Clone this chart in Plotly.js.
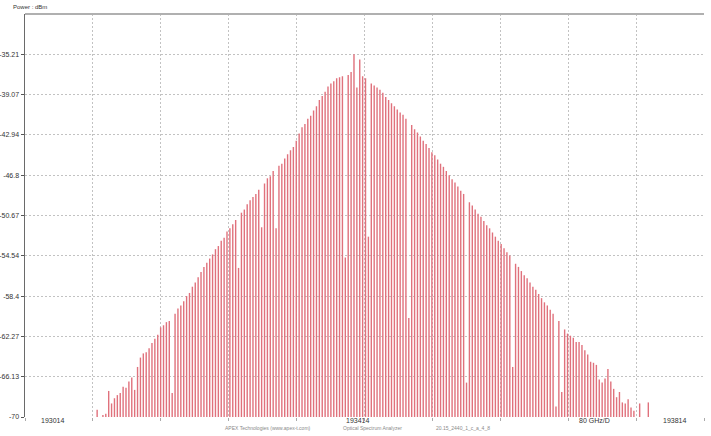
<!DOCTYPE html>
<html><head><meta charset="utf-8">
<script src="https://cdn.plot.ly/plotly-3.0.1.min.js"></script>
<style>html,body{margin:0;padding:0;background:#fff;} #chart{width:711px;height:436px;}</style>
</head><body><div id="chart"></div>
<script>
const freqGHz = [
193099.0,193102.4,193105.8,193109.2,193112.6,193116.0,193119.4,193122.8,193126.2,193129.6,
193133.0,193136.4,193139.8,193143.2,193146.6,193150.0,193153.4,193156.8,193160.2,193163.6,
193167.0,193170.4,193173.8,193177.2,193180.6,193184.0,193187.4,193190.8,193194.2,193197.6,
193201.0,193204.4,193207.8,193211.2,193214.6,193218.0,193221.4,193224.8,193228.2,193231.6,
193235.0,193238.4,193241.8,193245.2,193248.6,193252.0,193255.4,193258.8,193262.2,193265.6,
193269.0,193272.4,193275.8,193279.2,193282.6,193286.0,193289.4,193292.8,193296.2,193299.6,
193303.0,193306.4,193309.8,193313.2,193316.6,193320.0,193323.4,193326.8,193330.2,193333.6,
193337.0,193340.4,193343.8,193347.2,193350.6,193354.0,193357.4,193360.8,193364.2,193367.6,
193371.0,193374.4,193377.8,193381.2,193384.6,193388.0,193391.4,193394.8,193398.2,193401.6,
193405.0,193408.4,193411.8,193415.2,193418.6,193422.0,193425.4,193428.8,193432.2,193435.6,
193439.0,193442.4,193445.8,193449.2,193452.6,193456.0,193459.4,193462.8,193466.2,193469.6,
193473.0,193476.4,193479.8,193483.2,193486.6,193490.0,193493.4,193496.8,193500.2,193503.6,
193507.0,193510.4,193513.8,193517.2,193520.6,193524.0,193527.4,193530.8,193534.2,193537.6,
193541.0,193544.4,193547.8,193551.2,193554.6,193558.0,193561.4,193564.8,193568.2,193571.6,
193575.0,193578.4,193581.8,193585.2,193588.6,193592.0,193595.4,193598.8,193602.2,193605.6,
193609.0,193612.4,193615.8,193619.2,193622.6,193626.0,193629.4,193632.8,193636.2,193639.6,
193643.0,193646.4,193649.8,193653.2,193656.6,193660.0,193663.4,193666.8,193670.2,193673.6,
193677.0,193680.4,193683.8,193687.2,193690.6,193694.0,193697.4,193700.8,193704.2,193707.6,
193711.0,193714.4,193717.8,193721.2,193724.6,193728.0,193731.4,193734.8,193738.2,193741.6,
193745.0,193748.4
];
const powerDbm = [
-69.3,-70,-69.8,-69.7,-67.5,-68.7,-68.2,-67.9,-67.7,-67.1,
-67.2,-66.6,-66.2,-67.4,-65.2,-64.3,-63.9,-63.8,-63.4,-62.9,
-62.5,-62.1,-61.4,-61.2,-60.9,-60.8,-67.7,-60.1,-59.6,-59.3,
-58.9,-58.4,-58.1,-57.5,-57.1,-56.6,-56.1,-55.6,-55.2,-54.8,
-54.4,-53.9,-53.6,-53.1,-52.8,-52.2,-51.9,-51.5,-51.1,-55.7,
-50.4,-50.1,-49.6,-49.2,-48.9,-48.6,-48.2,-51.8,-47.6,-47.1,
-46.9,-46.4,-51.9,-45.9,-45.7,-45.2,-44.8,-44.4,-44.1,-43.5,
-42.8,-42.2,-41.9,-41.4,-41.1,-40.6,-40.2,-39.6,-39.2,-38.8,
-38.3,-38.0,-37.8,-37.5,-37.4,-37.3,-54.7,-37.2,-36.9,-35.2,
-38.4,-35.7,-37.3,-37.5,-52.7,-38.0,-38.2,-38.4,-38.6,-38.9,
-39.3,-39.6,-39.9,-40.2,-40.5,-40.8,-41.0,-41.4,-60.5,-42.0,
-42.4,-42.7,-43.1,-43.5,-43.8,-44.2,-44.6,-44.9,-45.3,-45.7,
-46.0,-46.4,-46.8,-47.2,-47.5,-47.9,-48.3,-48.6,-66.7,-49.4,
-49.7,-50.1,-50.5,-50.8,-51.2,-51.6,-51.9,-52.3,-52.7,-53.1,
-53.4,-53.8,-54.2,-54.5,-65.2,-55.3,-55.6,-56.0,-56.4,-56.7,
-57.1,-57.5,-57.8,-58.2,-58.6,-59.0,-59.3,-59.7,-60.1,-69.0,
-60.8,-67.6,-61.6,-62.0,-62.2,-62.4,-62.8,-62.8,-63.1,-63.6,
-64.0,-64.7,-64.8,-65.0,-66.4,-66.7,-66.3,-65.4,-66.6,-67.3,
-68.1,-67.6,-68.6,-68.7,-68.3,-69.1,-69.4,-70,-68.7,-70,
-70,-68.6
];
const yTickVals = [-70,-66.134,-62.268,-58.402,-54.536,-50.67,-46.804,-42.938,-39.072,-35.206];
const yTickText = ['-70','-66.13','-62.27','-58.4','-54.54','-50.67','-46.8','-42.94','-39.07','-35.21'];
const xRange = [193014, 193814];
const yRange = [-70, -31.34];
const xDivGHz = 80;
const xAxisLabels = ['193014','193414','80 GHz/D','193814'];
const footerTexts = ['APEX Technologies (www.apex-t.com)','Optical Spectrum Analyzer','20.15_2440_1_c_a_4_8'];
const yTitle = 'Power : dBm';

const floorDbm = yRange[0];
const xs = [], ys = [];
freqGHz.forEach((f, i) => { xs.push(f, f, null); ys.push(floorDbm, powerDbm[i], null); });

const trace = {
  type: 'scatter', mode: 'lines', x: xs, y: ys,
  line: {color: '#e0717c', width: 1.4}, hoverinfo: 'skip', showlegend: false
};

const labelX = [0.0398, 0.490, 0.838, 0.957];
const footerX = [0.358, 0.5125, 0.645];
const annotations = [];
xAxisLabels.forEach((t, i) => annotations.push({
  text: t, xref: 'paper', yref: 'paper', x: labelX[i], y: -0.0099,
  xanchor: 'center', yanchor: 'middle', showarrow: false,
  font: {size: 7, color: '#333', family: 'Liberation Sans'}
}));
footerTexts.forEach((t, i) => annotations.push({
  text: t, xref: 'paper', yref: 'paper', x: footerX[i], y: -0.0273,
  xanchor: 'center', yanchor: 'middle', showarrow: false,
  font: {size: 5, color: '#8a8a8a', family: 'Liberation Sans'}
}));
annotations.push({
  text: yTitle, xref: 'paper', yref: 'paper', x: 0.0074, y: 1.0174,
  xanchor: 'center', yanchor: 'middle', showarrow: false,
  font: {size: 6, color: '#333', family: 'Liberation Sans'}
});

const layout = {
  width: 711, height: 436,
  margin: {l: 25, r: 7, t: 14, b: 19, pad: 0},
  paper_bgcolor: '#fff', plot_bgcolor: '#fff',
  font: {family: 'Liberation Sans', size: 7, color: '#333'},
  showlegend: false,
  xaxis: {
    range: xRange, tick0: xRange[0], dtick: xDivGHz, showticklabels: false,
    showgrid: true, gridcolor: '#c2c2c2', griddash: '2px,2px', gridwidth: 1,
    ticks: 'outside', ticklen: 3, tickcolor: '#aaa', zeroline: false, showline: false
  },
  yaxis: {
    range: yRange, tickmode: 'array', tickvals: yTickVals, ticktext: yTickText,
    showgrid: true, gridcolor: '#c2c2c2', griddash: '2px,2px', gridwidth: 1,
    ticks: 'outside', ticklen: 3, tickcolor: '#555',
    tickfont: {size: 7, color: '#333'},
    showline: true, linecolor: '#6a6a6a', linewidth: 1.5, zeroline: false
  },
  shapes: [{type: 'line', xref: 'paper', yref: 'paper', x0: 0, x1: 1, y0: 1, y1: 1,
            line: {color: '#b0b0b0', width: 2}, layer: 'above'}],
  annotations: annotations
};

Plotly.newPlot('chart', [trace], layout, {staticPlot: true, displayModeBar: false});
</script>
</body></html>
